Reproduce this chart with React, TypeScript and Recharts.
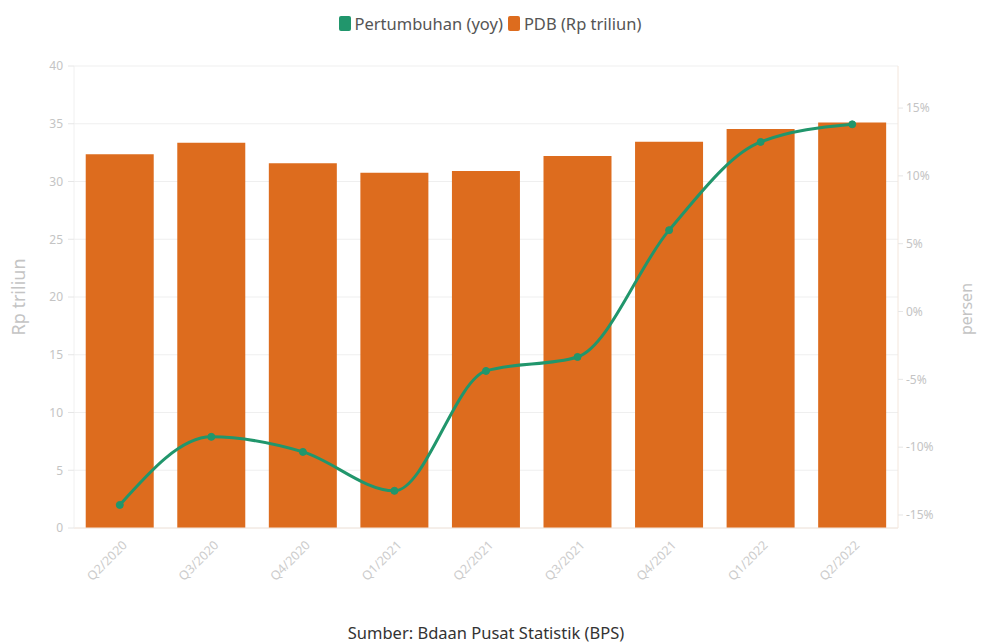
import React from 'react';
import { ComposedChart, Bar, Line, XAxis, YAxis, CartesianGrid, Legend } from 'recharts';

const categories = ['Q2/2020', 'Q3/2020', 'Q4/2020', 'Q1/2021', 'Q2/2021', 'Q3/2021', 'Q4/2021', 'Q1/2022', 'Q2/2022'];
const pdb = [32.35, 33.36, 31.57, 30.76, 30.9, 32.2, 33.45, 34.55, 35.1];
const growth = [-14.26, -9.24, -10.35, -13.22, -4.38, -3.35, 6.0, 12.5, 13.8];
const leftTicks = [0, 5, 10, 15, 20, 25, 30, 35, 40];
const rightTicks = [-15, -10, -5, 0, 5, 10, 15];

const data = categories.map((c, i) => ({ name: c, pdb: pdb[i], growth: growth[i] }));

const FONT = '"Noto Sans", "Open Sans", sans-serif';
const GREEN = '#21966c';
const ORANGE = '#dd6c1e';

const XTick = (props: any) => {
  const { x, y, payload } = props;
  return (
    <g transform={`translate(${x + 8},${y + 10})`}>
      <text transform="rotate(-45)" textAnchor="end" fill="#cccccc" fontSize={12.5} fontFamily={FONT}>
        {payload.value}
      </text>
    </g>
  );
};

const LegendContent = () => (
  <div style={{ display: 'flex', justifyContent: 'center', alignItems: 'center', fontFamily: FONT, fontSize: 16.5, color: '#555', height: 36, paddingRight: 12 }}>
    <span style={{ display: 'inline-block', width: 12, height: 15, background: GREEN, borderRadius: 2, marginRight: 4 }} />
    <span style={{ marginRight: 5 }}>Pertumbuhan (yoy)</span>
    <span style={{ display: 'inline-block', width: 12, height: 15, background: ORANGE, borderRadius: 2, marginRight: 4 }} />
    <span>PDB (Rp triliun)</span>
  </div>
);

export default function App() {
  return (
    <div style={{ position: 'absolute', left: 0, top: 0, width: 981, height: 644, background: '#fff' }}>
      <ComposedChart
        width={981}
        height={644}
        data={data}
        margin={{ top: 30, right: 3, bottom: 5, left: 14 }}
        barCategoryGap="12.8%"
      >
        <Legend verticalAlign="top" content={<LegendContent />} wrapperStyle={{ top: 5 }} />
        <CartesianGrid yAxisId="left" vertical={false} stroke="#efefef" />
        <XAxis
          dataKey="name"
          height={111}
          tick={<XTick />}
          tickLine={false}
          axisLine={{ stroke: '#f3e6dc' }}
          interval={0}
          label={{ value: 'Sumber: Bdaan Pusat Statistik (BPS)', position: 'insideBottom', offset: 0, fill: '#333', fontSize: 16.5, fontFamily: FONT }}
        />
        <YAxis
          yAxisId="left"
          orientation="left"
          width={60}
          domain={[0, 40]}
          ticks={leftTicks}
          interval={0}
          tick={{ fill: '#c4c4c4', fontSize: 12, fontFamily: FONT }}
          tickLine={{ stroke: '#e6e6e6' }}
          tickSize={6}
          tickMargin={5}
          axisLine={{ stroke: '#f0f0f0' }}
          label={{ value: 'Rp triliun', angle: -90, position: 'insideLeft', offset: 0, fill: '#c4c4c4', fontSize: 18, fontFamily: FONT, dx: 5, textAnchor: 'middle' }}
        />
        <YAxis
          yAxisId="right"
          orientation="right"
          width={80}
          domain={[-15.96, 18.1]}
          ticks={rightTicks}
          interval={0}
          allowDataOverflow
          tickFormatter={(v: number) => `${v}%`}
          tick={{ fill: '#c4c4c4', fontSize: 12, fontFamily: FONT }}
          tickLine={{ stroke: '#e6e6e6' }}
          tickSize={5}
          tickMargin={3}
          axisLine={{ stroke: '#f3e6dc' }}
          label={{ value: 'persen', angle: -90, position: 'insideRight', offset: 12, fill: '#c4c4c4', fontSize: 16, fontFamily: FONT, textAnchor: 'middle', dy: 12 }}
        />
        <Bar yAxisId="left" dataKey="pdb" name="PDB (Rp triliun)" fill={ORANGE} isAnimationActive={false} />
        <Line
          yAxisId="right"
          dataKey="growth"
          name="Pertumbuhan (yoy)"
          type="monotone"
          stroke={GREEN}
          strokeWidth={3}
          dot={{ r: 3.5, fill: GREEN, stroke: GREEN, strokeWidth: 1 }}
          isAnimationActive={false}
        />
      </ComposedChart>
    </div>
  );
}
